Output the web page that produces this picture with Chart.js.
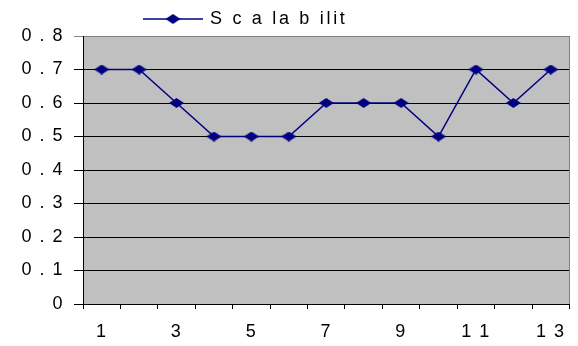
<!DOCTYPE html>
<html>
<head>
<meta charset="utf-8">
<script src="https://cdn.jsdelivr.net/npm/chart.js@4/dist/chart.umd.min.js"></script>
<style>
  html, body { margin: 0; padding: 0; background: #fff; }
  #wrap { width: 578px; height: 346px; }
</style>
</head>
<body>
<div id="wrap"><canvas id="c" width="578" height="346"></canvas></div>
<script>
// ---- data ----
const categories = ['1','2','3','4','5','6','7','8','9','1 0','1 1','1 2','1 3'];
const scalability = [0.7,0.7,0.6,0.5,0.5,0.5,0.6,0.6,0.6,0.5,0.7,0.6,0.7];
const seriesName = 'S c a la b ilit';
const yTickLabels = ['0','0 . 1','0 . 2','0 . 3','0 . 4','0 . 5','0 . 6','0 . 7','0 . 8'];

const FONT = "'Liberation Sans', Arial, sans-serif";
const NAVY = '#000080';
const LS = '1.5px';
const LEGEND_LS = '2.7px';

// diamond marker
function makeDiamond(w, h) {
  const c = document.createElement('canvas');
  c.width = w; c.height = h;
  const g = c.getContext('2d');
  g.fillStyle = NAVY;
  g.beginPath();
  g.moveTo(0, h / 2);
  g.lineTo(w / 2, 0);
  g.lineTo(w, h / 2);
  g.lineTo(w / 2, h);
  g.closePath();
  g.fill();
  return c;
}
const diamond = makeDiamond(15, 10);

const bgPlugin = {
  id: 'bg',
  beforeDraw(chart) {
    const { ctx, chartArea: a } = chart;
    ctx.letterSpacing = LS;
    ctx.save();
    ctx.fillStyle = '#C0C0C0';
    ctx.fillRect(a.left, a.top, a.right - a.left, a.bottom - a.top);
    ctx.restore();
  },
  afterDraw(chart) {
    const { ctx, chartArea: a } = chart;
    ctx.save();
    // right border
    ctx.strokeStyle = '#808080';
    ctx.lineWidth = 1;
    ctx.beginPath();
    ctx.moveTo(Math.round(a.right) - 0.5, a.top);
    ctx.lineTo(Math.round(a.right) - 0.5, a.bottom);
    ctx.stroke();
    // legend
    const ly = 19;
    ctx.strokeStyle = NAVY;
    ctx.lineWidth = 1.5;
    ctx.beginPath();
    ctx.moveTo(143, ly);
    ctx.lineTo(203, ly);
    ctx.stroke();
    ctx.drawImage(diamond, 173 - 7.5, ly - 5);
    ctx.fillStyle = '#000';
    ctx.font = '18px ' + FONT;
    ctx.letterSpacing = LEGEND_LS;
    ctx.textBaseline = 'middle';
    ctx.textAlign = 'left';
    ctx.fillText(chart.data.datasets[0].label, 210, ly);
    ctx.restore();
  }
};

new Chart(document.getElementById('c'), {
  type: 'line',
  data: {
    labels: categories,
    datasets: [{
      label: seriesName,
      data: scalability,
      borderColor: NAVY,
      borderWidth: 1.5,
      pointStyle: diamond,
      pointRadius: 7,
      pointHoverRadius: 7,
      tension: 0,
      fill: false
    }]
  },
  options: {
    responsive: false,
    animation: false,
    devicePixelRatio: 1,
    layout: { padding: { top: 36, right: 2, left: 0, bottom: 0 } },
    plugins: { legend: { display: false }, tooltip: { enabled: false } },
    scales: {
      x: {
        offset: true,
        afterFit(s) { s.height = 42; },
        border: { display: true, color: '#000', width: 1 },
        grid: {
          offset: true,
          drawOnChartArea: false,
          drawTicks: true,
          tickLength: 5,
          color: '#000'
        },
        ticks: {
          autoSkip: false,
          maxRotation: 0,
          padding: 12,
          color: '#000',
          font: { family: FONT, size: 18 },
          callback(v, i) { return i % 2 === 0 ? categories[i] : ''; }
        }
      },
      y: {
        min: 0,
        max: 0.8,
        afterFit(s) { s.width = 83; },
        border: { display: true, color: '#000', width: 1 },
        grid: {
          drawTicks: true,
          tickLength: 9,
          color(ctx) { return ctx.index === 8 ? '#808080' : '#000'; },
          lineWidth: 1
        },
        ticks: {
          stepSize: 0.1,
          padding: 10,
          color: '#000',
          font: { family: FONT, size: 18 },
          callback(v, i) { return yTickLabels[i]; }
        }
      }
    }
  },
  plugins: [bgPlugin]
});
</script>
</body>
</html>
